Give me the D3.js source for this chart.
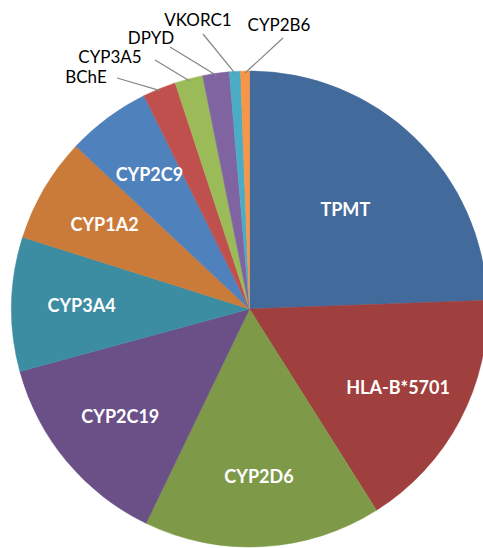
<!DOCTYPE html>
<html>
<head>
<meta charset="utf-8">
<script src="https://cdn.jsdelivr.net/npm/d3@7"></script>
<style>
  html, body { margin: 0; padding: 0; background: #ffffff; }
  svg { display: block; }
</style>
</head>
<body>
<svg id="chart"></svg>
<script>
// pie data (share of entries)
const genes = ["TPMT", "HLA-B*5701", "CYP2D6", "CYP2C19", "CYP3A4", "CYP1A2",
  "CYP2C9", "BChE", "CYP3A5", "DPYD", "VKORC1", "CYP2B6"];
const shares = [24.4, 16.6, 16.1, 13.6, 9.1, 7.1, 5.7, 2.25, 1.9, 1.8, 0.75, 0.6];

// excel-like slice colours
const sliceColors = ["#426a9b", "#9f3f3e", "#7e9a49", "#6a5087", "#3c8ca2", "#cb7b39",
  "#4f81bd", "#c0504d", "#9bbb59", "#8064a2", "#4bacc6", "#f79646"];

const width = 483;
const height = 548;
const cx = 249.5;
const cy = 309;
const radius = 238;

// labels inside the big slices, distance from centre
const insideRadius = { "TPMT": 138 };
const insideDefault = 168;

// small slices get a label outside with a leader line
const outside = {
  "BChE":   { tx: 86,  ty: 83, lx: 117, ly: 78 },
  "CYP3A5": { tx: 110, ty: 63, lx: 155, ly: 60 },
  "DPYD":   { tx: 151, ty: 44, lx: 170, ly: 47 },
  "VKORC1": { tx: 198, ty: 26, lx: 203, ly: 34 },
  "CYP2B6": { tx: 279, ty: 31, lx: 283, ly: 38 },
};

const data = genes.map((g, i) => ({ gene: g, value: shares[i] }));

const svg = d3.select("#chart")
  .attr("width", width)
  .attr("height", height)
  .attr("viewBox", `0 0 ${width} ${height}`);

const color = d3.scaleOrdinal().domain(genes).range(sliceColors);

const pie = d3.pie()
  .value((d) => d.value)
  .sort(null);

const arcs = pie(data);

const arc = d3.arc().innerRadius(0).outerRadius(radius);

const g = svg.append("g").attr("transform", `translate(${cx},${cy})`);

// slices
g.selectAll(".slice")
  .data(arcs)
  .enter()
  .append("path")
  .attr("class", "slice")
  .attr("d", arc)
  .attr("fill", (d) => color(d.data.gene))
  .attr("stroke", (d) => color(d.data.gene))
  .attr("stroke-width", 0.5);

// labels inside slices
g.selectAll(".in-label")
  .data(arcs.filter((d) => !outside[d.data.gene]))
  .enter()
  .append("text")
  .attr("class", "in-label")
  .attr("transform", (d) => {
    const r = insideRadius[d.data.gene] || insideDefault;
    const c = d3.arc().innerRadius(r).outerRadius(r).centroid(d);
    return `translate(${c[0]},${c[1]})`;
  })
  .attr("dy", "0.36em")
  .attr("text-anchor", "middle")
  .style("font-family", "Lato, 'Open Sans', sans-serif")
  .style("font-size", "18px")
  .style("font-weight", "bold")
  .style("fill", "#ffffff")
  .text((d) => d.data.gene);

// leader lines for the small slices
const edgeArc = d3.arc().innerRadius(radius - 2).outerRadius(radius - 2);

g.selectAll(".leader")
  .data(arcs.filter((d) => outside[d.data.gene]))
  .enter()
  .append("line")
  .attr("class", "leader")
  .attr("x1", (d) => outside[d.data.gene].lx - cx)
  .attr("y1", (d) => outside[d.data.gene].ly - cy)
  .attr("x2", (d) => edgeArc.centroid(d)[0])
  .attr("y2", (d) => edgeArc.centroid(d)[1])
  .attr("stroke", "#858585")
  .attr("stroke-width", 1.2);

// outside labels
svg.selectAll(".out-label")
  .data(arcs.filter((d) => outside[d.data.gene]))
  .enter()
  .append("text")
  .attr("class", "out-label")
  .attr("x", (d) => outside[d.data.gene].tx)
  .attr("y", (d) => outside[d.data.gene].ty)
  .attr("text-anchor", "middle")
  .style("font-family", "Lato, 'Open Sans', sans-serif")
  .style("font-size", "17px")
  .style("fill", "#000000")
  .text((d) => d.data.gene);
</script>
</body>
</html>
